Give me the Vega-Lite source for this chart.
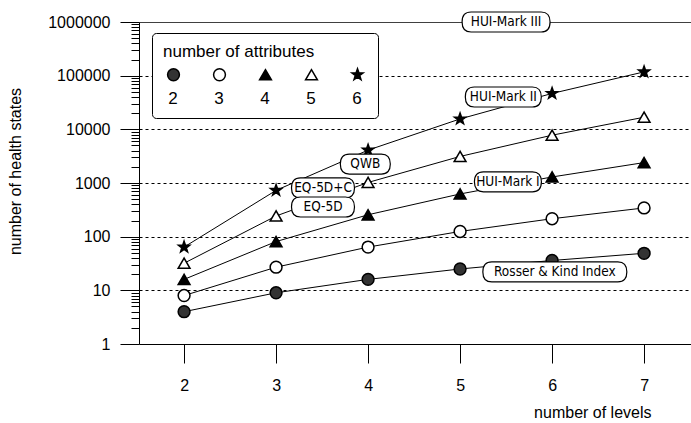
{
  "$schema": "https://vega.github.io/schema/vega-lite/v6.json",
  "width": 552,
  "height": 322,
  "autosize": "none",
  "padding": {"left": 139, "top": 22, "right": 0, "bottom": 79},
  "background": "white",
  "config": {
    "view": {"stroke": null},
    "font": "Liberation Sans",
    "axis": {"labelFont": "Liberation Sans", "titleFont": "Liberation Sans", "labelColor": "black", "titleColor": "black", "domainColor": "black", "tickColor": "black", "titleFontWeight": "normal"},
    "legend": {
      "orient": "none", "legendX": 13, "legendY": 11,
      "direction": "horizontal", "columns": 5,
      "padding": 11,
      "strokeColor": "black", "fillColor": "white", "cornerRadius": 4,
      "titleFont": "Liberation Sans", "titleFontSize": 17, "titleFontWeight": "normal", "titleColor": "black", "titlePadding": 5,
      "labelFont": "Liberation Sans", "labelFontSize": 17, "labelColor": "black",
      "labelAlign": "center", "labelOffset": -9,
      "symbolSize": 140, "symbolStrokeColor": "black", "symbolStrokeWidth": 1.5,
      "columnPadding": 26, "symbolOffset": 2
    }
  },
  "datasets": {
    "states": [
      {"levels": 2, "attributes": "2", "states": 4},
      {"levels": 3, "attributes": "2", "states": 9},
      {"levels": 4, "attributes": "2", "states": 16},
      {"levels": 5, "attributes": "2", "states": 25},
      {"levels": 6, "attributes": "2", "states": 36},
      {"levels": 7, "attributes": "2", "states": 49},
      {"levels": 2, "attributes": "3", "states": 8},
      {"levels": 3, "attributes": "3", "states": 27},
      {"levels": 4, "attributes": "3", "states": 64},
      {"levels": 5, "attributes": "3", "states": 125},
      {"levels": 6, "attributes": "3", "states": 216},
      {"levels": 7, "attributes": "3", "states": 343},
      {"levels": 2, "attributes": "4", "states": 16},
      {"levels": 3, "attributes": "4", "states": 81},
      {"levels": 4, "attributes": "4", "states": 256},
      {"levels": 5, "attributes": "4", "states": 625},
      {"levels": 6, "attributes": "4", "states": 1296},
      {"levels": 7, "attributes": "4", "states": 2401},
      {"levels": 2, "attributes": "5", "states": 32},
      {"levels": 3, "attributes": "5", "states": 243},
      {"levels": 4, "attributes": "5", "states": 1024},
      {"levels": 5, "attributes": "5", "states": 3125},
      {"levels": 6, "attributes": "5", "states": 7776},
      {"levels": 7, "attributes": "5", "states": 16807},
      {"levels": 2, "attributes": "6", "states": 64},
      {"levels": 3, "attributes": "6", "states": 729},
      {"levels": 4, "attributes": "6", "states": 4096},
      {"levels": 5, "attributes": "6", "states": 15625},
      {"levels": 6, "attributes": "6", "states": 46656},
      {"levels": 7, "attributes": "6", "states": 117649}
    ],
    "labels": [
      {"label": "HUI-Mark III", "levels": 5.5, "states": 1000000},
      {"label": "HUI-Mark II", "levels": 5.47, "states": 40000},
      {"label": "QWB", "levels": 3.97, "states": 2250},
      {"label": "EQ-5D+C", "levels": 3.51, "states": 810},
      {"label": "EQ-5D", "levels": 3.51, "states": 357},
      {"label": "HUI-Mark I", "levels": 5.52, "states": 1050},
      {"label": "Rosser & Kind Index", "levels": 6.03, "states": 22}
    ]
  },
  "encoding": {
    "x": {
      "field": "levels", "type": "quantitative",
      "scale": {"domain": [1.51, 7.51], "nice": false, "zero": false},
      "axis": {
        "title": "number of levels", "values": [2, 3, 4, 5, 6, 7], "grid": false,
        "tickSize": 19, "labelFontSize": 16, "labelPadding": 14, "titleFontSize": 16,
        "titleX": 512, "titleY": 68, "titleAlign": "right", "titleBaseline": "middle", "titleAnchor": "end"
      }
    },
    "y": {
      "field": "states", "type": "quantitative",
      "scale": {"type": "log", "domain": [1, 1000000], "nice": false},
      "axis": {
        "title": "number of health states",
        "values": [1,2,3,4,5,6,7,8,9,10,20,30,40,50,60,70,80,90,100,200,300,400,500,600,700,800,900,1000,2000,3000,4000,5000,6000,7000,8000,9000,10000,20000,30000,40000,50000,60000,70000,80000,90000,100000,200000,300000,400000,500000,600000,700000,800000,900000,1000000],
        "format": "d",
        "labelExpr": "indexof(['1','10','100','1000','10000','100000','1000000'], datum.label) >= 0 ? datum.label : ''",
        "labelOverlap": false,
        "labelFontSize": 16, "labelPadding": 10,
        "tickSize": {"condition": {"test": "indexof([1,10,100,1000,10000,100000,1000000], datum.value) >= 0", "value": 19}, "value": 8},
        "grid": true,
        "gridColor": "black",
        "gridDash": {"condition": {"test": "datum.value == 1000000", "value": [1, 0]}, "value": [3, 3]},
        "gridOpacity": {"condition": {"test": "indexof([10,100,1000,10000,100000,1000000], datum.value) >= 0", "value": 1}, "value": 0},
        "titleFontSize": 16, "titleX": -124, "titleY": 149, "titleAngle": -90, "titleBaseline": "middle", "titleAlign": "center", "titleAnchor": "middle"
      }
    }
  },
  "layer": [
    {
      "data": {"name": "states"},
      "mark": {"type": "line", "color": "black", "strokeWidth": 1},
      "encoding": {"detail": {"field": "attributes", "type": "nominal"}}
    },
    {
      "data": {"name": "states"},
      "mark": {"type": "point", "filled": true, "stroke": "black", "strokeWidth": 1.5, "opacity": 1, "size": 140},
      "encoding": {
        "shape": {
          "field": "attributes", "type": "nominal",
          "scale": {"domain": ["2","3","4","5","6"], "range": ["circle","circle","triangle-up","triangle-up","M0,-1L0.235,-0.324L0.951,-0.309L0.380,0.124L0.588,0.809L0,0.4L-0.588,0.809L-0.380,0.124L-0.951,-0.309L-0.235,-0.324Z"]},
          "legend": {
            "title": "number of attributes",
            "encoding": {"labels": {"dy": {"value": 24}}, "symbols": {"stroke": {"value": "black"}, "strokeWidth": {"value": 1.5}}, "entries": {"height": {"value": 26}}}
          }
        },
        "fill": {
          "field": "attributes", "type": "nominal",
          "scale": {"domain": ["2","3","4","5","6"], "range": ["#333333","white","black","white","black"]},
          "legend": {
            "title": "number of attributes",
            "encoding": {"labels": {"dy": {"value": 24}}, "symbols": {"stroke": {"value": "black"}, "strokeWidth": {"value": 1.5}}, "entries": {"height": {"value": 26}}}
          }
        }
      }
    },
    {
      "data": {"name": "labels"},
      "transform": [{"filter": "datum.label == 'HUI-Mark III'"}],
      "mark": {"type": "point", "filled": true, "fill": "white", "stroke": "black", "strokeWidth": 1.2, "opacity": 1, "size": 400,
        "shape": "M-3.5,-1L3.5,-1Q4.4,-1 4.4,0L4.4,0Q4.4,1 3.5,1L-3.5,1Q-4.4,1 -4.4,0L-4.4,0Q-4.4,-1 -3.5,-1Z"},
      "encoding": {}
    },
    {
      "data": {"name": "labels"},
      "transform": [{"filter": "datum.label == 'HUI-Mark II'"}],
      "mark": {"type": "point", "filled": true, "fill": "white", "stroke": "black", "strokeWidth": 1.2, "opacity": 1, "size": 400,
        "shape": "M-2.9,-1L2.9,-1Q3.8,-1 3.8,0L3.8,0Q3.8,1 2.9,1L-2.9,1Q-3.8,1 -3.8,0L-3.8,0Q-3.8,-1 -2.9,-1Z"},
      "encoding": {}
    },
    {
      "data": {"name": "labels"},
      "transform": [{"filter": "datum.label == 'QWB'"}],
      "mark": {"type": "point", "filled": true, "fill": "white", "stroke": "black", "strokeWidth": 1.2, "opacity": 1, "size": 400,
        "shape": "M-1.6,-1L1.6,-1Q2.5,-1 2.5,0L2.5,0Q2.5,1 1.6,1L-1.6,1Q-2.5,1 -2.5,0L-2.5,0Q-2.5,-1 -1.6,-1Z"},
      "encoding": {}
    },
    {
      "data": {"name": "labels"},
      "transform": [{"filter": "datum.label == 'EQ-5D+C' || datum.label == 'EQ-5D'"}],
      "mark": {"type": "point", "filled": true, "fill": "white", "stroke": "black", "strokeWidth": 1.2, "opacity": 1, "size": 400,
        "shape": "M-2.25,-1L2.25,-1Q3.15,-1 3.15,0L3.15,0Q3.15,1 2.25,1L-2.25,1Q-3.15,1 -3.15,0L-3.15,0Q-3.15,-1 -2.25,-1Z"},
      "encoding": {}
    },
    {
      "data": {"name": "labels"},
      "transform": [{"filter": "datum.label == 'HUI-Mark I'"}],
      "mark": {"type": "point", "filled": true, "fill": "white", "stroke": "black", "strokeWidth": 1.2, "opacity": 1, "size": 400,
        "shape": "M-2.45,-1L2.45,-1Q3.35,-1 3.35,0L3.35,0Q3.35,1 2.45,1L-2.45,1Q-3.35,1 -3.35,0L-3.35,0Q-3.35,-1 -2.45,-1Z"},
      "encoding": {}
    },
    {
      "data": {"name": "labels"},
      "transform": [{"filter": "datum.label == 'Rosser & Kind Index'"}],
      "mark": {"type": "point", "filled": true, "fill": "white", "stroke": "black", "strokeWidth": 1.2, "opacity": 1, "size": 400,
        "shape": "M-6.3,-1L6.3,-1Q7.2,-1 7.2,0L7.2,0Q7.2,1 6.3,1L-6.3,1Q-7.2,1 -7.2,0L-7.2,0Q-7.2,-1 -6.3,-1Z"},
      "encoding": {}
    },
    {
      "data": {"name": "labels"},
      "mark": {"type": "text", "font": "'Liberation Sans Narrow', 'DejaVu Sans Condensed', 'Liberation Sans', sans-serif", "fontSize": 13.5, "color": "black", "align": "center", "baseline": "middle"},
      "encoding": {"text": {"field": "label", "type": "nominal"}}
    }
  ]
}
